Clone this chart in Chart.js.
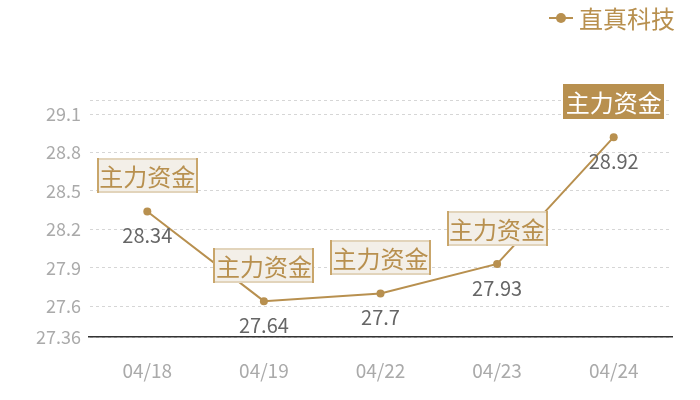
<!DOCTYPE html>
<html>
<head>
<meta charset="utf-8">
<script src="https://cdn.jsdelivr.net/npm/chart.js@4/dist/chart.umd.min.js"></script>
<style>
  html, body { margin: 0; padding: 0; background: #fff; }
  #wrap { width: 700px; height: 400px; }
</style>
</head>
<body>
<div id="wrap"><canvas id="c"></canvas></div>
<script>
const dates = ['04/18', '04/19', '04/22', '04/23', '04/24'];
const prices = [28.34, 27.64, 27.7, 27.93, 28.92];
const yTicks = [27.36, 27.6, 27.9, 28.2, 28.5, 28.8, 29.1, 29.21];
const seriesName = '直真科技';
const tagText = '主力资金';
const highlightIdx = 4;

const GOLD = '#b8904f';
const FONT = '"Noto Sans CJK SC", "Noto Sans", sans-serif';

// legend drawn by hand: line + dot, then the name, top right
const legendPlugin = {
  id: 'miniLegend',
  afterDraw(chart) {
    const ctx = chart.ctx;
    ctx.save();
    ctx.strokeStyle = GOLD; ctx.lineWidth = 2;
    ctx.beginPath(); ctx.moveTo(549, 18); ctx.lineTo(573, 18); ctx.stroke();
    ctx.fillStyle = GOLD;
    ctx.beginPath(); ctx.arc(561, 18, 5, 0, Math.PI * 2); ctx.fill();
    ctx.font = '24px ' + FONT;
    ctx.textAlign = 'left';
    ctx.textBaseline = 'middle';
    ctx.fillText(seriesName, 579, 19);
    ctx.restore();
  }
};

// value labels under the points and the tag boxes above them
const tagsPlugin = {
  id: 'tags',
  afterDatasetsDraw(chart) {
    const ctx = chart.ctx;
    const meta = chart.getDatasetMeta(0);
    ctx.save();
    meta.data.forEach((pt, i) => {
      const x = pt.x, y = pt.y;
      ctx.font = '20px ' + FONT;
      ctx.fillStyle = '#666';
      ctx.textAlign = 'center';
      ctx.textBaseline = 'middle';
      ctx.fillText(String(prices[i]), x, y + 24);

      const w = 101, h = 35;
      const bx = Math.round(x - w / 2), by = Math.round(y - 18 - h);
      if (i === highlightIdx) {
        ctx.fillStyle = GOLD;
        ctx.fillRect(bx, by, w, h);
        ctx.fillStyle = '#fff';
      } else {
        ctx.fillStyle = '#f3efe8';
        ctx.fillRect(bx, by, w, h);
        ctx.strokeStyle = '#e2d4bb';
        ctx.lineWidth = 2;
        ctx.strokeRect(bx + 1, by + 1, w - 2, h - 2);
        ctx.strokeStyle = '#c9a66b';
        ctx.beginPath();
        ctx.moveTo(bx + 1, by); ctx.lineTo(bx + 1, by + h);
        ctx.moveTo(bx + w - 1, by); ctx.lineTo(bx + w - 1, by + h);
        ctx.stroke();
        ctx.fillStyle = GOLD;
      }
      ctx.font = '24px ' + FONT;
      ctx.fillText(tagText, x, by + h / 2 + 1);
    });
    ctx.restore();
  }
};

new Chart(document.getElementById('c'), {
  type: 'line',
  data: {
    labels: dates,
    datasets: [{
      label: seriesName,
      data: prices,
      borderColor: GOLD,
      backgroundColor: GOLD,
      borderWidth: 2,
      pointRadius: 4,
      pointHoverRadius: 4,
      pointBackgroundColor: GOLD,
      pointBorderWidth: 0,
      tension: 0
    }]
  },
  options: {
    responsive: true,
    maintainAspectRatio: false,
    animation: false,
    layout: { padding: { top: 100, right: 28, bottom: 0, left: 0 } },
    plugins: {
      legend: { display: false },
      tooltip: { enabled: false }
    },
    scales: {
      x: {
        offset: true,
        grid: { display: false, drawTicks: false },
        border: { color: '#333', width: 1.5 },
        ticks: { color: '#aaa', font: { size: 19, family: FONT }, padding: 22 },
        afterFit(s) { s.height = 63; }
      },
      y: {
        min: yTicks[0],
        max: yTicks[yTicks.length - 1],
        afterBuildTicks(s) { s.ticks = yTicks.map(v => ({ value: v })); },
        grid: { color: '#d6d6d6', drawTicks: false },
        border: { display: true, color: 'rgba(0,0,0,0)', dash: [3, 3] },
        ticks: {
          color: '#aaa',
          font: { size: 18, family: FONT },
          padding: 8,
          callback: (v, i) => (i === yTicks.length - 1 ? '' : String(v))
        },
        afterFit(s) { s.width = 89; }
      }
    }
  },
  plugins: [tagsPlugin, legendPlugin]
});
</script>
</body>
</html>
